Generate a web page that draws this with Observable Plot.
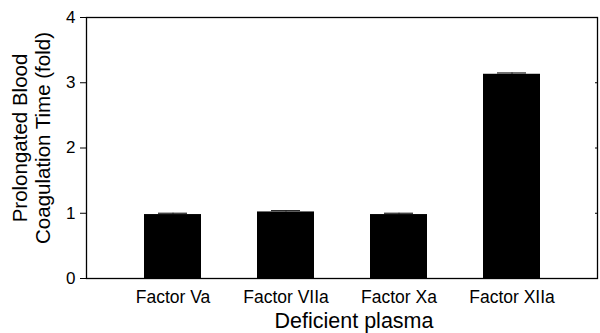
<!DOCTYPE html>
<html>
<head>
<meta charset="utf-8">
<script src="https://cdn.jsdelivr.net/npm/d3@7"></script>
<script src="https://cdn.jsdelivr.net/npm/@observablehq/plot@0.6"></script>
<style>
  html, body { margin: 0; padding: 0; background: #fff; }
  #chart svg { display: block; }
</style>
</head>
<body>
<div id="chart"></div>
<script>
const categories = ["Factor Va", "Factor VIIa", "Factor Xa", "Factor XIIa"];
const means = [0.98, 1.02, 0.98, 3.13];
const errors = [0.02, 0.02, 0.02, 0.02];
const yTicks = [0, 1, 2, 3, 4];
const rightTicks = [1, 2, 3];
const yTitle = "Prolongated Blood\nCoagulation Time (fold)";
const xTitle = "Deficient plasma";

const data = categories.map((c, i) => ({cat: c, mean: means[i], top: means[i] + errors[i]}));

const chart = Plot.plot({
  width: 600,
  height: 333,
  marginLeft: 86,
  marginRight: 3,
  marginTop: 17,
  marginBottom: 55,
  style: {fontFamily: "'Liberation Sans', Arial, sans-serif", fontSize: "17px", color: "#000", background: "#fff"},
  x: {domain: categories, padding: 0.5, label: null},
  y: {domain: [0, 4], label: null},
  marks: [
    Plot.barY(data, {x: "cat", y: "mean", fill: "#000"}),
    Plot.ruleX(data, {x: "cat", y1: "mean", y2: "top", stroke: "#000"}),
    Plot.tickY(data, {x: "cat", y: "top", stroke: "#222", strokeWidth: 1.2, insetLeft: 14, insetRight: 14}),
    Plot.frame({stroke: "#000", strokeWidth: 1.3}),
    Plot.axisY({ticks: yTicks, tickSize: 6, tickPadding: 5, fontSize: 17, label: null, tickFormat: d3.format("d")}),
    Plot.axisY({anchor: "right", ticks: rightTicks, tickSize: -3, tickFormat: () => "", label: null}),
    Plot.axisX({tickSize: 0, tickPadding: 12, fontSize: 17.5, label: null}),
    Plot.text([yTitle], {frameAnchor: "left", textAnchor: "middle", lineAnchor: "middle", text: d => d, rotate: -90, dx: -55.5, dy: -10, fontSize: 20.5, lineHeight: 1.12}),
    Plot.text([xTitle], {frameAnchor: "bottom", textAnchor: "middle", lineAnchor: "middle", text: d => d, dx: 12, dy: 43, fontSize: 21.5})
  ]
});
document.getElementById("chart").appendChild(chart);
</script>
</body>
</html>
